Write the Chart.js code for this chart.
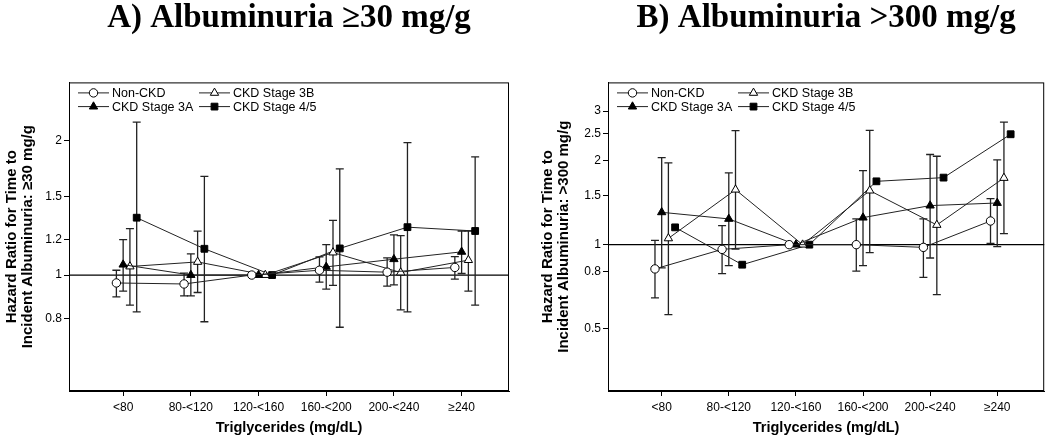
<!DOCTYPE html>
<html>
<head>
<meta charset="utf-8">
<script src="https://cdn.jsdelivr.net/npm/chart.js@4.4.0/dist/chart.umd.min.js"></script>
<style>
  html, body { margin: 0; padding: 0; background: #fff; }
  #wrap { position: relative; width: 1050px; height: 438px; }
  canvas { position: absolute; top: 0; }
</style>
</head>
<body>
<div id="wrap">
  <canvas id="chartA" width="525" height="438" style="left:0"></canvas>
  <canvas id="chartB" width="525" height="438" style="left:525px"></canvas>
</div>
<script>
// categories and series
const categories = ['<80', '80-<120', '120-<160', '160-<200', '200-<240', '\u2265240'];
const seriesNames = ['Non-CKD', 'CKD Stage 3A', 'CKD Stage 3B', 'CKD Stage 4/5'];

// y tick labels
const yTicksA = [0.8, 1, 1.2, 1.5, 2];
const yTicksB = [0.5, 0.8, 1, 1.5, 2, 2.5, 3];

// A) albuminuria >=30 mg/g : hazard ratio, lower CI, upper CI
const hrA_nonCkd = [0.96, 0.955, 1.0, 1.025, 1.015, 1.04];
const loA_nonCkd = [0.894, 0.898, null, 0.964, 0.944, 0.979];
const hiA_nonCkd = [1.025, 1.01, null, 1.098, 1.093, 1.10];

const hrA_3a = [1.055, 1.0, 1.0, 1.043, 1.085, 1.127];
const loA_3a = [0.92, 0.898, null, 0.93, 0.951, 1.008];
const hiA_3a = [1.20, 1.115, null, 1.17, 1.23, 1.255];

const hrA_3b = [1.045, 1.07, 1.0, 1.123, 1.013, 1.08];
const loA_3b = [0.856, 0.914, null, 0.948, 0.836, 0.92];
const hiA_3b = [1.27, 1.254, null, 1.325, 1.226, 1.255];

const hrA_45 = [1.344, 1.145, 1.0, 1.147, 1.28, 1.255];
const loA_45 = [0.827, 0.786, null, 0.764, 0.827, 0.856];
const hiA_45 = [2.20, 1.664, null, 1.728, 1.98, 1.84];

// B) albuminuria >300 mg/g
const hrB_nonCkd = [0.819, 0.962, 1.0, 1.0, 0.978, 1.215];
const loB_nonCkd = [0.645, 0.788, null, 0.805, 0.764, 1.01];
const hiB_nonCkd = [1.036, 1.17, null, 1.236, 1.236, 1.46];

const hrB_3a = [1.305, 1.236, 1.0, 1.249, 1.379, 1.409];
const loB_3a = [0.826, 0.841, null, 0.841, 0.896, 0.984];
const hiB_3a = [2.046, 1.805, null, 1.84, 2.10, 2.01];

const hrB_3b = [1.053, 1.572, 1.0, 1.56, 1.176, 1.731];
const loB_3b = [0.562, 0.965, null, 0.936, 0.663, 1.095];
const hiB_3b = [1.96, 2.556, null, 2.56, 2.07, 2.74];

const hrB_45 = [1.153, 0.848, 1.0, 1.684, 1.736, 2.48];
const loB_45 = [null, null, null, null, null, null];
const hiB_45 = [null, null, null, null, null, null];

// marker look per series
const seriesOffsets = [-0.1, 0, 0.1, 0.2];
const markerStyles = ['circle', 'triangle', 'triangle', 'rect'];
const markerFills = ['#fff', '#000', '#fff', '#000'];
const markerRadius = [4.2, 4.8, 4.8, 4.8];

Chart.defaults.font.family = "'Liberation Sans', Arial, sans-serif";
Chart.defaults.color = '#000';

// error bars, reference line at 1, frame and the inset legend
const panelExtras = {
  id: 'panelExtras',
  beforeDatasetsDraw(chart) {
    const { ctx, chartArea, scales: { x, y } } = chart;
    ctx.save();
    const y1 = y.getPixelForValue(1);
    ctx.strokeStyle = '#000';
    ctx.lineWidth = 1.2;
    ctx.beginPath();
    ctx.moveTo(chartArea.left, y1);
    ctx.lineTo(chartArea.right, y1);
    ctx.stroke();

    ctx.strokeStyle = '#222';
    ctx.lineWidth = 1.3;
    chart.data.datasets.forEach(ds => {
      ds.data.forEach((p, i) => {
        const lo = ds.errLo[i], hi = ds.errHi[i];
        if (lo == null || hi == null) return;
        const px = x.getPixelForValue(p.x);
        const pl = y.getPixelForValue(lo);
        const ph = y.getPixelForValue(hi);
        ctx.beginPath();
        ctx.moveTo(px, pl); ctx.lineTo(px, ph);
        ctx.moveTo(px - 4, pl); ctx.lineTo(px + 4, pl);
        ctx.moveTo(px - 4, ph); ctx.lineTo(px + 4, ph);
        ctx.stroke();
      });
    });
    ctx.restore();
  },
  afterDraw(chart) {
    const { ctx, chartArea } = chart;
    ctx.save();
    ctx.strokeStyle = '#000';
    ctx.lineWidth = 1;
    ctx.strokeRect(chartArea.left + 0.5, chartArea.top + 0.5,
      chartArea.right - chartArea.left - 1, chartArea.bottom - chartArea.top - 1);

    // legend: two rows, two columns
    ctx.font = "12.5px 'Liberation Sans', Arial, sans-serif";
    ctx.textBaseline = 'middle';
    ctx.textAlign = 'left';
    chart.data.datasets.forEach((ds, i) => {
      const row = i % 2, col = Math.floor(i / 2);
      const x0 = chartArea.left + 9 + col * 121;
      const cy = chartArea.top + 10.5 + row * 13.7;
      ctx.strokeStyle = '#222';
      ctx.lineWidth = 1;
      ctx.beginPath();
      ctx.moveTo(x0, cy); ctx.lineTo(x0 + 31, cy);
      ctx.stroke();
      ctx.fillStyle = ds.pointBackgroundColor;
      ctx.strokeStyle = '#000';
      Chart.helpers.drawPoint(ctx, {
        pointStyle: ds.pointStyle, radius: ds.pointRadius, borderWidth: 1, rotation: 0
      }, x0 + 15.5, cy);
      ctx.fillStyle = '#000';
      ctx.fillText(ds.label, x0 + 34, cy + 0.5);
    });
    ctx.restore();
  }
};

function buildDatasets(hr, lo, hi) {
  return seriesNames.map((name, s) => ({
    label: name,
    data: hr[s].map((v, i) => ({ x: i + seriesOffsets[s], y: v })),
    errLo: lo[s],
    errHi: hi[s],
    showLine: true,
    borderColor: '#222',
    borderWidth: 1,
    pointStyle: markerStyles[s],
    pointRadius: markerRadius[s],
    pointBackgroundColor: markerFills[s],
    pointBorderColor: '#000',
    pointBorderWidth: 1
  }));
}

function makePanel(id, cfg) {
  return new Chart(document.getElementById(id), {
    type: 'scatter',
    data: { datasets: buildDatasets(cfg.hr, cfg.lo, cfg.hi) },
    plugins: [panelExtras],
    options: {
      responsive: false,
      animation: false,
      layout: { padding: { left: 0, right: cfg.padRight, top: 0, bottom: 0 } },
      plugins: {
        legend: { display: false },
        tooltip: { enabled: false },
        title: {
          display: true,
          text: cfg.title,
          fullSize: false,
          color: '#000',
          font: { family: "'Liberation Serif', 'Times New Roman', serif", size: 33, weight: 'bold', lineHeight: 0.8 },
          padding: { top: 5, bottom: 51 }
        }
      },
      scales: {
        x: {
          type: 'linear',
          min: -0.8,
          max: 5.7,
          afterBuildTicks: s => { s.ticks = categories.map((c, i) => ({ value: i })); },
          afterFit: s => { s.height = 47; },
          ticks: {
            callback: v => categories[v],
            font: { size: 12 },
            color: '#000',
            padding: 4,
            autoSkip: false,
            maxRotation: 0
          },
          grid: { display: true, drawOnChartArea: false, drawTicks: true, tickLength: 5, color: '#000' },
          border: { display: true, color: '#000' },
          title: {
            display: true,
            text: 'Triglycerides (mg/dL)',
            color: '#000',
            font: { size: 14.5, weight: 'bold' },
            padding: { top: 2, bottom: 1 }
          }
        },
        y: {
          type: 'logarithmic',
          min: cfg.yMin,
          max: cfg.yMax,
          afterBuildTicks: s => { s.ticks = cfg.yTicks.map(v => ({ value: v })); },
          afterFit: s => { s.width = cfg.yWidth; },
          ticks: {
            callback: v => String(v),
            font: { size: 12 },
            color: '#000',
            padding: 2
          },
          grid: { display: true, drawOnChartArea: false, drawTicks: true, tickLength: 5, color: '#000' },
          border: { display: true, color: '#000' },
          title: {
            display: true,
            text: cfg.yTitle,
            color: '#000',
            font: { size: 15, weight: 'bold', lineHeight: 1.02 },
            padding: { top: cfg.yTitlePad, bottom: 0 }
          }
        }
      }
    }
  });
}

makePanel('chartA', {
  title: 'A) Albuminuria \u226530 mg/g',
  yTitle: ['Hazard Ratio for Time to', 'Incident Albuminuria: \u226530 mg/g'],
  hr: [hrA_nonCkd, hrA_3a, hrA_3b, hrA_45],
  lo: [loA_nonCkd, loA_3a, loA_3b, loA_45],
  hi: [hiA_nonCkd, hiA_3a, hiA_3b, hiA_45],
  yMin: 0.55, yMax: 2.7, yTicks: yTicksA,
  yWidth: 69, yTitlePad: 4.5, padRight: 16
});

makePanel('chartB', {
  title: 'B) Albuminuria >300 mg/g',
  yTitle: ['Hazard Ratio for Time to', 'Incident Albuminuria: >300 mg/g'],
  hr: [hrB_nonCkd, hrB_3a, hrB_3b, hrB_45],
  lo: [loB_nonCkd, loB_3a, loB_3b, loB_45],
  hi: [hiB_nonCkd, hiB_3a, hiB_3b, hiB_45],
  yMin: 0.3, yMax: 3.8, yTicks: yTicksB,
  yWidth: 83, yTitlePad: 15.5, padRight: 5
});
</script>
</body>
</html>
